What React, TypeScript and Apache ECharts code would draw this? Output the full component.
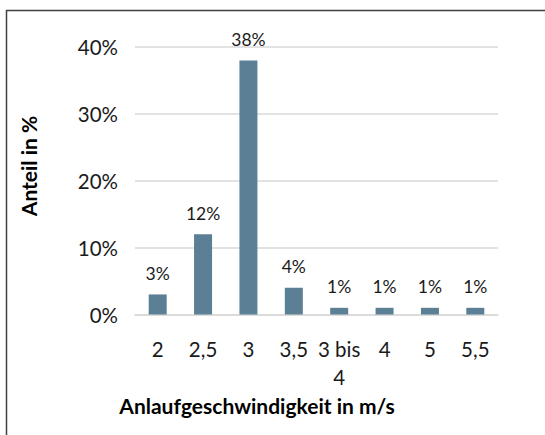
import React, { useEffect, useRef } from "react";
import * as echarts from "echarts";

const categories = ["2", "2,5", "3", "3,5", "3 bis 4", "4", "5", "5,5"];
const values = [3, 12, 38, 4, 1, 1, 1, 1];
const yTicks = { min: 0, max: 40, interval: 10 };
const xTitle = "Anlaufgeschwindigkeit in m/s";
const yTitle = "Anteil in %";

const FONT = "Lato";

export default function App() {
  const ref = useRef<HTMLDivElement>(null);
  useEffect(() => {
    document.body.style.margin = "0";
    const chart = echarts.init(ref.current!, null, { renderer: "svg" });
    chart.setOption({
      animation: false,
      backgroundColor: "#ffffff",
      grid: { left: 135, right: 47, top: 47, bottom: 120.5 },
      xAxis: {
        type: "category",
        data: categories,
        axisLine: { show: true, lineStyle: { color: "#d9d9d9", width: 1.5 } },
        axisTick: { show: false },
        axisLabel: {
          color: "#1a1a1a",
          fontFamily: FONT,
          fontSize: 20.5,
          lineHeight: 28,
          margin: 20,
          interval: 0,
          formatter: (v: string) => (v === "3 bis 4" ? "3 bis\n4" : v),
        },
      },
      yAxis: {
        type: "value",
        min: yTicks.min,
        max: yTicks.max,
        interval: yTicks.interval,
        axisLine: { show: false },
        axisTick: { show: false },
        splitLine: { lineStyle: { color: "#d9d9d9", width: 1.5 } },
        axisLabel: {
          color: "#1a1a1a",
          fontFamily: FONT,
          fontSize: 20.5,
          margin: 17,
          formatter: "{value}%",
        },
      },
      series: [
        {
          type: "bar",
          data: values,
          barWidth: 18,
          itemStyle: { color: "#5b7f95" },
          label: {
            show: true,
            position: "top",
            distance: 12,
            color: "#1a1a1a",
            fontFamily: FONT,
            fontSize: 17.5,
            formatter: "{c}%",
          },
        },
      ],
      graphic: [
        {
          type: "rect",
          shape: { x: 6.5, y: 10.5, width: 700, height: 600 },
          style: { fill: "none", stroke: "#404040", lineWidth: 1.5 },
          silent: true,
        },
        {
          type: "text",
          x: 257,
          y: 405,
          style: {
            text: xTitle,
            fontFamily: FONT,
            fontWeight: "bold",
            fontSize: 21,
            fill: "#000000",
            align: "center",
            verticalAlign: "middle",
          },
        },
        {
          type: "text",
          x: 28,
          y: 166,
          rotation: Math.PI / 2,
          style: {
            text: yTitle,
            fontFamily: FONT,
            fontWeight: "bold",
            fontSize: 21,
            fill: "#000000",
            align: "center",
            verticalAlign: "middle",
          },
        },
      ],
    });
    return () => chart.dispose();
  }, []);
  return (
    <div
      ref={ref}
      style={{ position: "absolute", left: 0, top: 0, width: 545, height: 435 }}
    />
  );
}
